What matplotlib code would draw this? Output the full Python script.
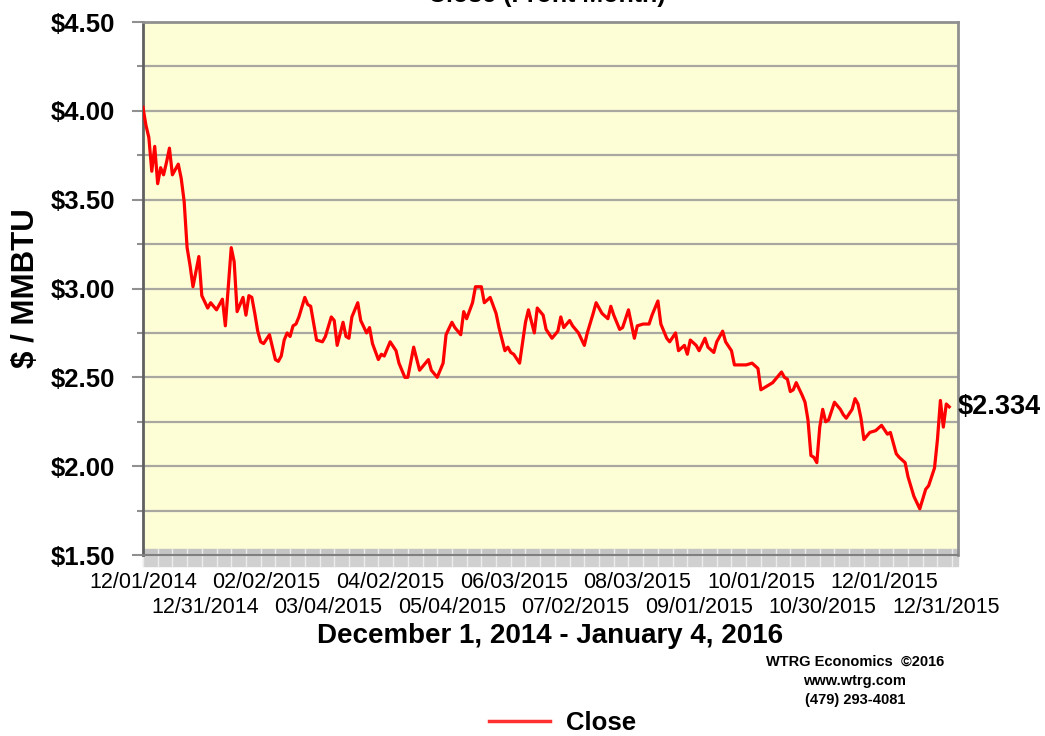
import matplotlib
matplotlib.use("Agg")
from matplotlib import pyplot as plt
from matplotlib.patches import Rectangle
from matplotlib.lines import Line2D

plt.rcParams['font.family'] = ['Liberation Sans', 'DejaVu Sans']

# trading session number counted from 12/01/2014, and the close on that session
session = [0, 1, 2, 3, 4, 5, 6, 7, 8, 9, 10, 12, 13, 14, 15, 16, 17, 19, 20, 22,
           23, 25, 27, 28, 30, 31, 32, 34, 35, 36, 37, 38, 39, 40, 41, 43, 44, 45, 46, 47,
           48, 49, 50, 51, 52, 53, 55, 56, 57, 59, 61, 62, 64, 65, 66, 68, 69, 70, 71, 73,
           74, 76, 77, 78, 80, 81, 82, 84, 86, 87, 89, 90, 92, 94, 97, 98, 100, 102, 103, 105,
           106, 108, 109, 110, 112, 113, 115, 116, 118, 120, 121, 123, 124, 125, 126, 128, 130, 131, 133, 134,
           136, 137, 139, 141, 142, 143, 145, 146, 148, 150, 151, 153, 154, 156, 158, 159, 160, 162, 163, 165,
           167, 168, 170, 172, 173, 175, 176, 178, 179, 181, 182, 184, 185, 186, 188, 189, 191, 192, 194, 195,
           197, 198, 200, 201, 203, 205, 207, 209, 210, 212, 214, 217, 218, 219, 220, 221, 222, 224, 225, 226,
           227, 228, 229, 230, 231, 232, 233, 235, 237, 238, 239, 241, 242, 243, 244, 245, 247, 249, 251, 253,
           254, 256, 257, 259, 260, 262, 264, 266, 267, 269, 270, 271, 272, 273, 274]
close = [4.02, 3.92, 3.85, 3.66, 3.80, 3.59, 3.68, 3.64, 3.71, 3.79, 3.64, 3.70, 3.62, 3.49, 3.23, 3.13, 3.01, 3.18, 2.96, 2.89,
         2.92, 2.88, 2.94, 2.79, 3.23, 3.15, 2.87, 2.95, 2.85, 2.96, 2.95, 2.86, 2.76, 2.70, 2.69, 2.74, 2.67, 2.60, 2.59, 2.62,
         2.71, 2.75, 2.73, 2.79, 2.80, 2.84, 2.95, 2.91, 2.90, 2.71, 2.70, 2.73, 2.84, 2.82, 2.68, 2.81, 2.73, 2.72, 2.84, 2.92,
         2.82, 2.75, 2.78, 2.69, 2.60, 2.63, 2.62, 2.70, 2.65, 2.58, 2.50, 2.50, 2.67, 2.54, 2.60, 2.54, 2.50, 2.58, 2.74, 2.81,
         2.78, 2.74, 2.87, 2.83, 2.92, 3.01, 3.01, 2.92, 2.95, 2.86, 2.78, 2.65, 2.67, 2.64, 2.63, 2.58, 2.81, 2.88, 2.75, 2.89,
         2.85, 2.77, 2.72, 2.76, 2.84, 2.78, 2.82, 2.79, 2.75, 2.68, 2.75, 2.86, 2.92, 2.86, 2.83, 2.90, 2.85, 2.77, 2.78, 2.88,
         2.72, 2.79, 2.80, 2.80, 2.85, 2.93, 2.80, 2.72, 2.70, 2.75, 2.65, 2.68, 2.63, 2.71, 2.68, 2.65, 2.72, 2.67, 2.64, 2.70,
         2.76, 2.70, 2.65, 2.57, 2.57, 2.57, 2.58, 2.55, 2.43, 2.45, 2.47, 2.53, 2.50, 2.49, 2.42, 2.43, 2.47, 2.40, 2.36, 2.26,
         2.06, 2.05, 2.02, 2.22, 2.32, 2.25, 2.26, 2.36, 2.32, 2.29, 2.27, 2.32, 2.38, 2.35, 2.27, 2.15, 2.19, 2.20, 2.23, 2.18,
         2.19, 2.07, 2.05, 2.02, 1.94, 1.83, 1.76, 1.87, 1.89, 1.99, 2.15, 2.37, 2.22, 2.35, 2.334]

# a date label every 21 sessions
tick_labels = ['12/01/2014', '12/31/2014', '02/02/2015', '03/04/2015', '04/02/2015',
               '05/04/2015', '06/03/2015', '07/02/2015', '08/03/2015', '09/01/2015',
               '10/01/2015', '10/30/2015', '12/01/2015', '12/31/2015']
tick_step = 21

fig = plt.figure(figsize=(10.45, 7.36), dpi=100)
ax = fig.add_axes([0.1368, 0.2459, 0.78, 0.7242])
ax.set_facecolor('#fefed6')

ax.set_xlim(0, 277)
ax.set_ylim(1.5, 4.5)

for v in [1.75 + 0.25 * k for k in range(11)]:
    ax.axhline(v, color='#a8a8a0', lw=1.6, zorder=1)

# grey floor strip along the bottom
ax.axhspan(1.5, 1.534, color='#c4c4c4', zorder=1)
ax.add_patch(Rectangle((0, -0.021), 1, 0.021, transform=ax.transAxes,
                       color='#d0d0d0', clip_on=False, zorder=1))
for s in range(0, 278, 5):
    ax.plot([s, s], [-0.021, 0.012], color='#ececec', lw=1,
            transform=ax.get_xaxis_transform(), clip_on=False, zorder=1)

ax.plot(session, close, color='#ff0000', lw=2.3, zorder=3)

last = close[-1]
ax.text(0.999, last, '$%.3f' % last, transform=ax.get_yaxis_transform(),
        ha='left', va='center', fontsize=19.5, fontweight='bold')

for side in ['top', 'right']:
    ax.spines[side].set_color('#909090')
    ax.spines[side].set_linewidth(2)
ax.spines['left'].set_color('#606060')
ax.spines['left'].set_linewidth(2)
ax.spines['bottom'].set_color('#808080')
ax.spines['bottom'].set_linewidth(1.5)

ax.set_yticks([1.5, 2.0, 2.5, 3.0, 3.5, 4.0, 4.5])
ax.set_yticklabels(['$%.2f' % v for v in ax.get_yticks()], fontsize=18.5, fontweight='bold')
ax.set_yticks([1.75 + 0.5 * k for k in range(6)], minor=True)
ax.tick_params(axis='y', which='major', length=8, width=1.5, color='#909090', pad=12)
ax.tick_params(axis='y', which='minor', length=4, width=1.5, color='#909090')

pos = [i * tick_step for i in range(len(tick_labels))]
ax.set_xticks(pos[0::2])
ax.set_xticklabels(tick_labels[0::2], fontsize=15.5)
ax.set_xticks(pos[1::2], minor=True)
ax.set_xticklabels(tick_labels[1::2], minor=True, fontsize=15.5)
ax.tick_params(axis='x', which='major', length=0, pad=12)
ax.tick_params(axis='x', which='minor', length=0, pad=30)

ax.set_ylabel('$ / MMBTU', fontsize=22.5, fontweight='bold')
ax.yaxis.set_label_coords(-0.125, 0.5)
ax.set_xlabel('December 1, 2014 - January 4, 2016', fontsize=20, fontweight='bold', labelpad=4)

fig.text(0.523, 0.997, 'Close (Front Month)', ha='center', va='baseline',
         fontsize=18, fontweight='bold')

fig.text(0.818, 0.1005, 'WTRG Economics  \u00a92016', ha='center', va='center',
         fontsize=10.5, fontweight='bold')
fig.text(0.818, 0.0747, 'www.wtrg.com', ha='center', va='center',
         fontsize=10.5, fontweight='bold')
fig.text(0.818, 0.0489, '(479) 293-4081', ha='center', va='center',
         fontsize=10.5, fontweight='bold')

fig.legend(handles=[Line2D([], [], color='#ff3030', lw=2.5)], labels=['Close'],
           loc='center', bbox_to_anchor=(0.538, 0.018), frameon=False,
           prop={'size': 18.5, 'weight': 'bold'}, handlelength=2.4, handletextpad=0.6)

plt.savefig('out.png', dpi=100)
